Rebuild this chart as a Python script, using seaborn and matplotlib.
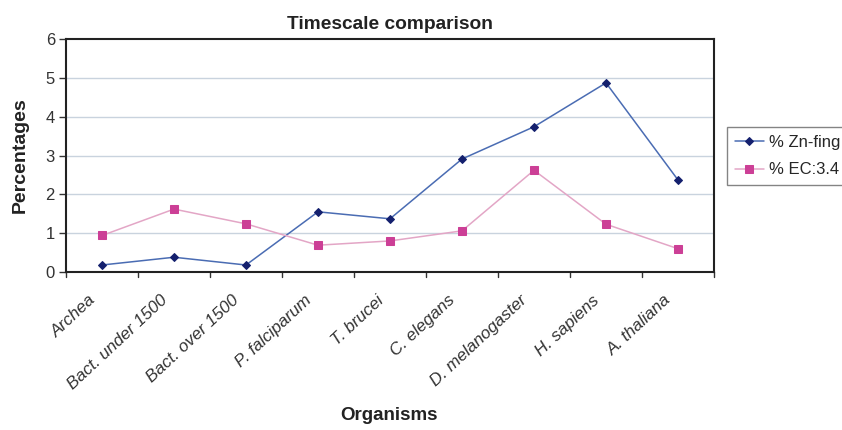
import matplotlib
matplotlib.use("Agg")
import matplotlib.pyplot as plt
import matplotlib.transforms as mtransforms
import seaborn as sns
import pandas as pd
import numpy as np

organisms = ["Archea", "Bact. under 1500", "Bact. over 1500", "P. falciparum",
             "T. brucei", "C. elegans", "D. melanogaster", "H. sapiens", "A. thaliana"]
zn_fing = [0.18, 0.38, 0.18, 1.55, 1.37, 2.91, 3.74, 4.87, 2.37]
ec_34 = [0.94, 1.62, 1.24, 0.69, 0.80, 1.06, 2.62, 1.23, 0.60]
series_names = ["% Zn-fing", "% EC:3.4"]

df = pd.DataFrame({
    "Organism": organisms * 2,
    "Percentage": zn_fing + ec_34,
    "Series": [series_names[0]] * len(organisms) + [series_names[1]] * len(organisms),
})

sns.set_style("white")
plt.rcParams["font.family"] = ["Liberation Sans", "DejaVu Sans"]

W, H = 842, 430
fig = plt.figure(figsize=(W / 100, H / 100), dpi=100)
ax = fig.add_axes([66 / W, 1 - 272 / H, (714 - 66) / W, (272 - 39) / H])

line_colors = {series_names[0]: "#4a6cb3", series_names[1]: "#e3a6c6"}
marker_colors = {series_names[0]: "#14206e", series_names[1]: "#cc3f96"}
markers = {series_names[0]: "D", series_names[1]: "s"}
msizes = {series_names[0]: 4.5, series_names[1]: 5.5}

for name in series_names:
    sub = df[df["Series"] == name]
    sns.lineplot(data=sub, x="Organism", y="Percentage", ax=ax, sort=False,
                 color=line_colors[name], linewidth=1.1, marker=markers[name],
                 markersize=msizes[name], markerfacecolor=marker_colors[name],
                 markeredgecolor=marker_colors[name], label=name, legend=False)

ax.set_xlim(-0.5, len(organisms) - 0.5)
ax.set_ylim(0, 6)
ax.set_yticks(range(0, 7))
ax.set_yticklabels([str(v) for v in range(0, 7)], fontsize=12, color="#333333")
for yv in range(1, 6):
    ax.axhline(yv, color="#c9d3de", linewidth=1.0, zorder=0)

# category labels, slanted, ending just left of each category centre
ax.set_xticks(range(len(organisms)))
ax.set_xticklabels(organisms, rotation=43, ha="right", va="center", rotation_mode="anchor",
                   fontsize=12.3, fontstyle="italic", color="#333333")
ax.tick_params(axis="x", length=0, pad=0)
shift = mtransforms.ScaledTranslation(-9 / 100, -26 / 100, fig.dpi_scale_trans)
for lab in ax.get_xticklabels():
    lab.set_transform(lab.get_transform() + shift)

# tick marks between categories
for b in np.arange(-0.5, len(organisms), 1.0):
    ax.plot([b, b], [0, -0.12], color="#333333", linewidth=1.0, clip_on=False)
ax.tick_params(axis="y", direction="out", length=5, width=1, color="#333333", left=True, pad=3)

for sp in ax.spines.values():
    sp.set_color("#222222")
    sp.set_linewidth(1.5)

ax.set_title("Timescale comparison", fontsize=13.8, fontweight="bold", color="#222222", pad=7)
ax.set_ylabel("Percentages", fontsize=14, fontweight="bold", color="#222222", labelpad=12)
ax.set_xlabel("Organisms", fontsize=13.5, fontweight="bold", color="#222222", va="center")
ax.xaxis.set_label_coords((389 - 66) / (714 - 66), -(416 - 272) / (272 - 39))

handles, labels = ax.get_legend_handles_labels()
leg = fig.legend(handles, labels, loc="upper left", bbox_to_anchor=(727 / W, 1 - 127 / H),
                 borderaxespad=0, frameon=True, fancybox=False, fontsize=12,
                 handlelength=1.75, borderpad=0.45, labelspacing=0.78, handletextpad=0.3)
leg.get_frame().set_edgecolor("#666666")
leg.get_frame().set_linewidth(1.0)

fig.savefig("out.png", dpi=100)
